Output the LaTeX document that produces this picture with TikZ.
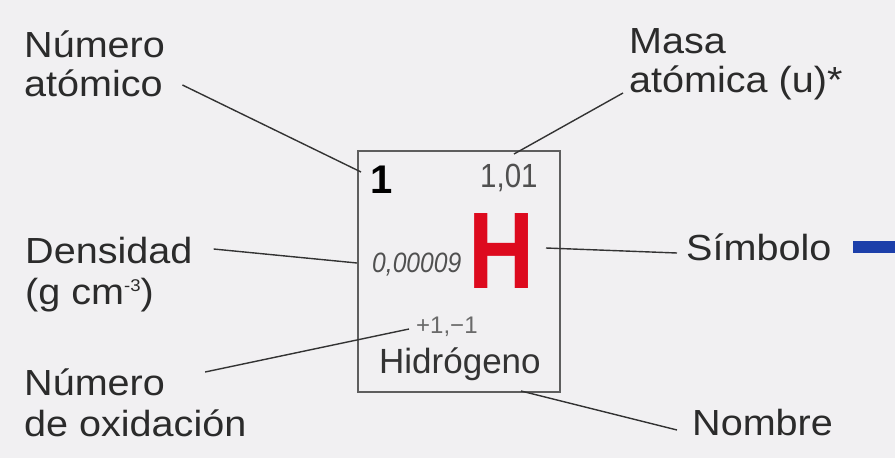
\documentclass[tikz,border=0pt]{standalone}
\usepackage{fontspec}
\setmainfont{Liberation Sans}
\newfontfamily\lblfont[FakeStretch=1.09]{Liberation Sans}
\newfontfamily\condfont[FakeStretch=0.88]{Liberation Sans}
\newfontfamily\hfont[FakeStretch=0.84]{Liberation Sans}
\definecolor{bgc}{HTML}{F1F0F2}
\definecolor{labelc}{HTML}{2B2B2B}
\definecolor{leadc}{HTML}{333333}
\definecolor{boxc}{HTML}{5E5E5E}
\definecolor{hred}{HTML}{DD0A1E}
\definecolor{graytxt}{HTML}{505050}
\definecolor{oxc}{HTML}{6A6A6A}
\definecolor{namec}{HTML}{333333}
\definecolor{barc}{HTML}{1C3FAA}
\begin{document}
\begin{tikzpicture}[x=1pt,y=-1pt,
  lbl/.style={font=\lblfont\fontsize{36.3}{40}\selectfont, text=labelc, inner sep=0pt, anchor=base west},
  intext/.style={inner sep=0pt, anchor=base west},
  lead/.style={draw=leadc, line width=1.4pt},
]
\fill[bgc] (0,0) rectangle (895,458);
\useasboundingbox (0,0) rectangle (895,458);

% element cell
\node[draw=boxc, line width=2pt, minimum width=202pt, minimum height=241pt, inner sep=0pt] (cell) at (459,271.5) {};
\node[intext, font=\bfseries\fontsize{40}{40}\selectfont, text=black] (anum) at (370.5,193) {1};
\node[intext, font=\condfont\fontsize{33.5}{34}\selectfont, text=graytxt] (amass) at (480,187) {1,01};
\node[intext, font=\condfont\itshape\fontsize{28}{28}\selectfont, text=graytxt] (dens) at (372,272) {0,00009};
\node[intext, font=\hfont\bfseries\fontsize{109}{109}\selectfont, text=hred] (esym) at (468,288) {H};
\node[intext, font=\fontsize{24}{24}\selectfont, text=oxc] (oxn) at (416,333) {+1,−1};
\node[intext, font=\fontsize{35}{35}\selectfont, text=namec] (ename) at (379,373) {Hidrógeno};

% labels
\node[lbl] (nA1) at (24,57) {Número};
\node[lbl] (nA2) at (24,96) {atómico};
\node[lbl] (mA1) at (629,53) {Masa};
\node[lbl] (mA2) at (629,92) {atómica (u)*};
\node[lbl] (den1) at (25,263) {Densidad};
\node[lbl] (den2) at (25,304) {(g cm\raisebox{13pt}{\fontsize{17}{17}\selectfont -3})};
\node[lbl] (ox1) at (24,395) {Número};
\node[lbl] (ox2) at (24,436) {de oxidación};
\node[lbl] (symL) at (686,260) {Símbolo};
\node[lbl] (nomL) at (692,435) {Nombre};

% leaders
\draw[lead] ([shift={(19.5,-11)}]nA2.base east) -- ([shift={(4,22)}]cell.north west);
\draw[lead] ([shift={(-6,1)}]mA2.base west) -- ([shift={(-47,4)}]cell.north east);
\draw[lead] ([shift={(21,-14)}]den1.base east) -- ([shift={(0,-8.5)}]cell.west);
\draw[lead] ([shift={(-15,-23.5)}]cell.east) -- ([shift={(-9,-7)}]symL.base west);
\draw[lead] ([shift={(40,-23)}]ox1.base east) -- ([shift={(52,-64)}]cell.south west);
\draw[lead] ([shift={(-40,-2)}]cell.south east) -- ([shift={(-15,-5)}]nomL.base west);

% blue bar at right edge
\fill[barc] (853,241) rectangle (895,253);
\end{tikzpicture}
\end{document}
